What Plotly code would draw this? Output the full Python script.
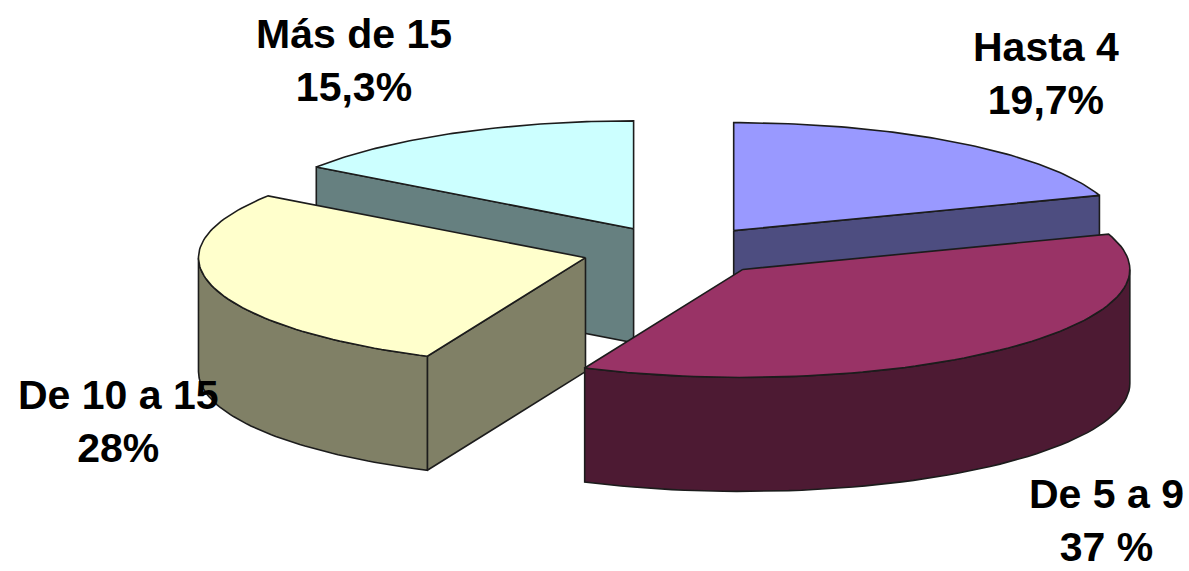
import math
import numpy as np
import plotly.graph_objects as go

categories = ["Hasta 4", "De 5 a 9", "De 10 a 15", "Más de 15"]
values = [19.7, 37.0, 28.0, 15.3]
value_labels = ["19,7%", "37 %", "28%", "15,3%"]
top_colors = ["#9999FF", "#993366", "#FFFFCC", "#CCFFFF"]
side_colors = ["#4D4D80", "#4D1A33", "#808066", "#668080"]
label_x = [1046, 1106, 118, 354]
label_y = [73, 520, 421, 60]

CX, CY, RX, RY, DEPTH = 678, 251, 387, 108, 114
EX, EY = 96, 25
EDGE = "#1c1c1c"

starts = np.cumsum([0] + values[:-1]) * 3.6
ends = np.cumsum(values) * 3.6
fig = go.Figure()


def face(xs, ys, fill, name):
    fig.add_trace(go.Scatter(x=xs, y=ys, mode="lines", fill="toself", fillcolor=fill,
                             line=dict(color=EDGE, width=1.6), name=name,
                             hoverinfo="name", showlegend=False))


def point(c, deg):
    r = math.radians(deg)
    return c[0] + RX * math.sin(r), c[1] - RY * math.cos(r)


centers = []
for s, e in zip(starts, ends):
    m = math.radians((s + e) / 2)
    centers.append((CX + EX * math.sin(m), CY - EY * math.cos(m)))

for i in [3, 0, 2, 1]:
    c, s, e = centers[i], starts[i], ends[i]
    name = categories[i]
    # radial wall that faces the viewer
    if i in (2, 3):
        px, py = point(c, s)
        face([c[0], px, px, c[0], c[0]], [c[1], py, py + DEPTH, c[1] + DEPTH, c[1]], side_colors[i], name)
    if i == 0:
        px, py = point(c, e)
        face([c[0], px, px, c[0], c[0]], [c[1], py, py + DEPTH, c[1] + DEPTH, c[1]], side_colors[i], name)
    # outer curved wall
    a0, a1 = max(s, 90), min(e, 270)
    if a1 > a0:
        ang = np.linspace(a0, a1, 60)
        pts = [point(c, a) for a in ang]
        xs = [p[0] for p in pts]
        ys = [p[1] for p in pts]
        face(xs + xs[::-1] + xs[:1], ys + [y + DEPTH for y in ys[::-1]] + ys[:1], side_colors[i], name)
    # top
    ang = np.linspace(s, e, 80)
    pts = [point(c, a) for a in ang]
    face([c[0]] + [p[0] for p in pts] + [c[0]], [c[1]] + [p[1] for p in pts] + [c[1]], top_colors[i], name)

for cat, val, x, y in zip(categories, value_labels, label_x, label_y):
    fig.add_annotation(x=x, y=y, text=f"<b>{cat}<br>{val}</b>", showarrow=False,
                       font=dict(family="Liberation Sans, Arial, sans-serif", size=41, color="#000000"),
                       align="center")

fig.update_layout(
    width=1189, height=571, margin=dict(l=0, r=0, t=0, b=0),
    paper_bgcolor="white", plot_bgcolor="white", showlegend=False,
    xaxis=dict(range=[0, 1189], visible=False, fixedrange=True),
    yaxis=dict(range=[571, 0], visible=False, fixedrange=True),
)
fig.write_html("out.html", config=dict(displayModeBar=False),
               post_script="document.body.style.margin='0';document.body.style.overflow='hidden';")
